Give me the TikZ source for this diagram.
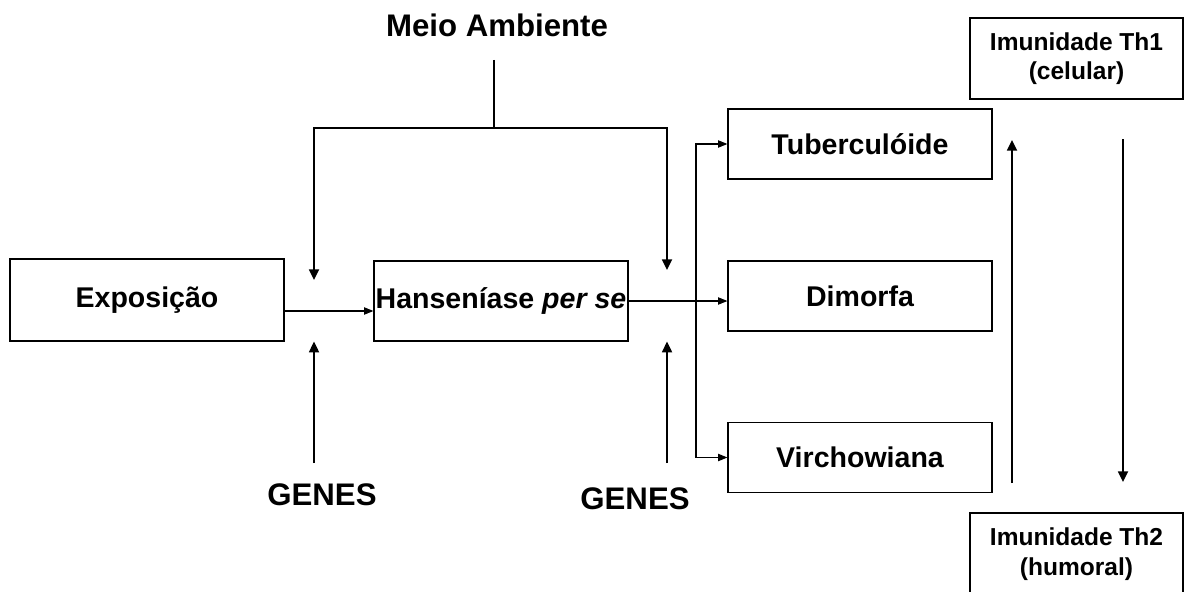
\documentclass[tikz,border=0pt]{standalone}
\usepackage{fontspec}
\setmainfont{Liberation Sans}
\usetikzlibrary{arrows.meta}
\tikzset{
  caixa/.style={draw=black, line width=0.9pt, inner sep=0pt, font=\bfseries\fontsize{21.4}{26}\selectfont},
  rotulo/.style={inner sep=0pt, font=\bfseries\fontsize{23.4}{28}\selectfont},
  imun/.style={draw=black, line width=0.9pt, inner sep=0pt, align=center, font=\bfseries\fontsize{18.4}{22}\selectfont},
  fina/.style={draw=black, line width=0.8pt, -{Triangle[length=7pt,width=5.5pt]}},
  grossa/.style={draw=black, line width=1.3pt, -{Triangle[length=8pt,width=7.5pt]}}
}
\begin{document}
\begin{tikzpicture}[x=0.75pt,y=-0.75pt]
                \useasboundingbox (0,0) rectangle (1185,592);
                %%%  Boxes
                \node[caixa, minimum width=205.5pt, minimum height=61.5pt] (expo) at (147,300) {Exposição};
                \node[caixa, minimum width=190.5pt, minimum height=60pt] (hans) at (501,301) {Hanseníase \textit{per se}};
                \node[caixa, minimum width=198pt, minimum height=52.5pt] (tub) at (860,144) {Tuberculóide};
                \node[caixa, minimum width=198pt, minimum height=52.5pt] (dim) at (860,296) {Dimorfa};
                \node[caixa, minimum width=198pt, minimum height=52pt] (vir) at (860,457.5) {Virchowiana};
                \node[imun, minimum width=159.75pt, minimum height=60.75pt] (th1) at (1076.5,58.5) {Imunidade Th1\\(celular)};
                \node[imun, minimum width=159.75pt, minimum height=61.5pt] (th2) at (1076.5,554) {Imunidade Th2\\(humoral)};
                %%% Free labels
                \node[rotulo] (meio) at (497,25) {Meio Ambiente};
                \node[rotulo] (genA) at (322,495) {GENES};
                \node[rotulo] (genB) at (635,499) {GENES};
                %%% Points for the connectors
                \coordinate (ma) at (494,60);
                \coordinate (mj) at (494,128);
                \coordinate (inA) at (314,280);
                \coordinate (inB) at (667,270);
                \coordinate (gA) at (314,463);
                \coordinate (gB) at (667,463);
                \coordinate (lin) at (0,311);
                \coordinate (br) at (696,301);
                \coordinate (upA) at (1012,483);
                \coordinate (upB) at (1012,140);
                \coordinate (dnA) at (1123,139);
                \coordinate (dnB) at (1123,482);
                %%% Environment lines
                \draw[draw=black, line width=0.9pt] (ma) -- (mj);
                \draw[grossa] (mj) -| (inA);
                \draw[grossa] (mj) -| (inB);
                %%% Genes arrows
                \draw[grossa] (gA) -- (gA |- expo.south);
                \draw[grossa] (gB) -- (gB |- hans.south);
                %%% Flow
                \draw[fina] (expo.east |- lin) -- (hans.west |- lin);
                \draw[fina] (hans.east) -- (hans.east -| dim.west);
                \draw[fina] (br) |- (tub.west);
                \draw[fina] (br) |- (vir.west);
                %%% Immunity arrows
                \draw[grossa] (upA) -- (upB);
                \draw[grossa] (dnA) -- (dnB);
\end{tikzpicture}
\end{document}
